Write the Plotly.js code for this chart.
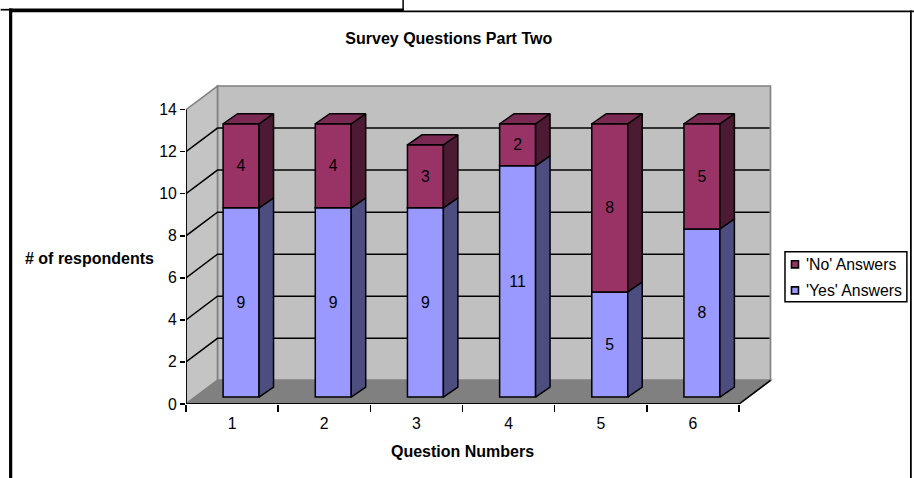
<!DOCTYPE html>
<html><head><meta charset="utf-8">
<script src="https://cdn.plot.ly/plotly-3.0.1.min.js"></script>
<style>html,body{margin:0;padding:0;background:#fff;overflow:hidden}</style>
</head><body><div id="chart" style="width:914px;height:478px"></div>
<script>
const categories = [1, 2, 3, 4, 5, 6];
const yesAnswers = [9, 9, 9, 11, 5, 8];
const noAnswers = [4, 4, 3, 2, 8, 5];
const yTicks = [0, 2, 4, 6, 8, 10, 12, 14];
const yesName = "'Yes' Answers";
const noName = "'No' Answers";

// layout
const W = 914, H = 478;
const m = {l: 185.5, r: 141, t: 83.4, b: 74};
const pxPerCat = 92.25, pxPerUnit = 21;
const xMin = 0.5, xMax = xMin + (W - m.r - m.l) / pxPerCat;
const yMax = (H - m.b - m.t) / pxPerUnit;
// oblique projection of the depth axis, in data units
const depthX = 31.5 / pxPerCat, depthY = 23.6 / pxPerUnit;
const frontX = 9 / pxPerCat, frontY = 6.9 / pxPerUnit;
const sideX = 14.5 / pxPerCat, sideY = 10 / pxPerUnit, barWidth = 0.39;
const xEnd = categories.length + 0.5, yTop = yTicks[yTicks.length - 1];

const px = v => (v - m.l) / (W - m.l - m.r);
const py = v => (H - m.b - v) / (H - m.t - m.b);
const poly = pts => 'M' + pts.map(p => p[0] + ' ' + p[1]).join('L') + 'Z';

const shapes = [];
const wall = (pts, fill, color) => shapes.push({type: 'path', xref: 'x', yref: 'y', layer: 'below', path: poly(pts),
  fillcolor: fill, line: {color: color, width: 1.6}});
wall([[xMin + depthX, depthY], [xEnd + depthX, depthY], [xEnd + depthX, yTop + depthY], [xMin + depthX, yTop + depthY]], '#C0C0C0', '#808080');
wall([[xMin, 0], [xMin, yTop], [xMin + depthX, yTop + depthY], [xMin + depthX, depthY]], '#C4C4C4', '#808080');
wall([[xMin, 0], [xEnd, 0], [xEnd + depthX, depthY], [xMin + depthX, depthY]], '#808080', '#808080');
yTicks.slice(1, -1).forEach(t => {
  shapes.push({type: 'path', xref: 'x', yref: 'y', layer: 'below', line: {color: '#000', width: 1.5},
    path: `M${xMin} ${t}L${xMin + depthX} ${t + depthY}L${xEnd + depthX - 0.01} ${t + depthY}`});
});
shapes.push({type: 'line', xref: 'x', yref: 'y', layer: 'below', x0: xEnd, y0: 0, x1: xEnd + depthX, y1: depthY, line: {color: '#000', width: 1.5}});

// frame around the pasted chart
const frame = (x0, y0, x1, y1, w) => shapes.push({type: 'line', xref: 'paper', yref: 'paper', x0: px(x0), y0: py(y0), x1: px(x1), y1: py(y1), line: {color: '#000', width: w}});
frame(0, 10.2, 10, 10.2, 1.7);
frame(8.5, 10.9, 403.5, 10.9, 3.6);
frame(403, 11.8, 914, 11.8, 1.8);
frame(10, 9, 10, 478, 3.2);
frame(911, 11, 911, 478, 1.8);
frame(402.8, 0, 402.8, 11, 1.5);

// legend box
shapes.push({type: 'rect', xref: 'paper', yref: 'paper', x0: px(785), x1: px(907), y0: py(252), y1: py(302), fillcolor: '#fff', line: {color: '#000', width: 1.5}});
const swatch = (y, c) => shapes.push({type: 'rect', xref: 'paper', yref: 'paper', x0: px(791.5), x1: px(798.5), y0: py(y - 3.5), y1: py(y + 3.5), fillcolor: c, line: {color: '#000', width: 1.6}});
const yesColor = '#9999FF', noColor = '#993366';
swatch(264.5, noColor);
swatch(290.5, yesColor);

// front faces
const barX = categories.map(c => c + frontX);
const yesBase = categories.map(() => frontY);
const noBase = yesAnswers.map(v => v + frontY);
const labelFont = {family: 'Liberation Sans, Arial, sans-serif', size: 15.8, color: '#000'};
const bar = (name, vals, base, color) => ({type: 'bar', name, x: barX, y: vals, base, width: barWidth,
  marker: {color, line: {color: '#000', width: 1.5}}, text: vals.map(String), textposition: 'inside', insidetextanchor: 'middle',
  textangle: 0, insidetextfont: labelFont, constraintext: 'none', showlegend: false, hovertemplate: name + ': %{y}<extra></extra>'});
const traces = [bar(yesName, yesAnswers, yesBase, yesColor), bar(noName, noAnswers, noBase, noColor)];

// side and top faces
const face = (pts, fill) => ({type: 'scatter', mode: 'lines', x: pts.map(p => p[0]).concat(pts[0][0]), y: pts.map(p => p[1]).concat(pts[0][1]),
  fill: 'toself', fillcolor: fill, line: {color: '#000', width: 1.5}, hoverinfo: 'skip', showlegend: false});
categories.forEach((c, i) => {
  const r = barX[i] + barWidth / 2, l = barX[i] - barWidth / 2;
  const y0 = frontY, y1 = frontY + yesAnswers[i], y2 = y1 + noAnswers[i];
  traces.push(face([[r, y0], [r + sideX, y0 + sideY], [r + sideX, y1 + sideY], [r, y1]], '#4D4D80'));
  traces.push(face([[r, y1], [r + sideX, y1 + sideY], [r + sideX, y2 + sideY], [r, y2]], '#4D1A33'));
  traces.push(face([[l, y2], [r, y2], [r + sideX, y2 + sideY], [l + sideX, y2 + sideY]], '#7A2952'));
});
// axis lines
const axisLine = (x, y) => ({type: 'scatter', mode: 'lines', x, y, cliponaxis: false, line: {color: '#000', width: 1.8}, hoverinfo: 'skip', showlegend: false});
traces.push(axisLine([xMin, xMin], [0, yTop]));
traces.push(axisLine([xMin, xEnd], [0, 0]));

const font = {family: 'Liberation Sans, Arial, sans-serif', size: 15.8, color: '#000'};
const bold = {family: 'Liberation Sans, Arial, sans-serif', size: 16, color: '#000', weight: 700};
const note = (text, x, y, f, anchor) => ({text, xref: 'paper', yref: 'paper', x: px(x), y: py(y), showarrow: false, font: f, xanchor: anchor || 'center', yanchor: 'middle', xshift: 0});
const layout = {
  width: W, height: H, margin: m, paper_bgcolor: '#fff', plot_bgcolor: 'rgba(0,0,0,0)', barmode: 'overlay', showlegend: false,
  font,
  title: {text: '<b>Survey Questions Part Two</b>', font: bold, x: px(448.5), xref: 'paper', xanchor: 'center', y: 1 - 38 / H, yref: 'container', yanchor: 'middle'},
  xaxis: {range: [xMin, xMax], tickmode: 'array', tickvals: categories, ticktext: categories.map(String), ticks: 'outside', ticklen: 5, tickcolor: 'rgba(0,0,0,0)', tickfont: font,
    showgrid: false, zeroline: false, showline: false, automargin: false,
    minor: {tickmode: 'array', tickvals: categories.map(c => c - 0.5).concat(xEnd), ticks: 'outside', ticklen: 6.5, tickwidth: 1.5, tickcolor: '#000', showgrid: false}},
  yaxis: {range: [0, yMax], tickmode: 'array', tickvals: yTicks, ticks: 'outside', ticklen: 5, tickwidth: 1.5, tickcolor: '#000', tickfont: font,
    showgrid: false, zeroline: false, showline: false, automargin: false},
  shapes,
  annotations: [
    note('<b># of respondents</b>', 88.5, 258.5, bold),
    note('<b>Question Numbers</b>', 462, 451, bold),
    note(noName, 804, 264.5, font, 'left'),
    note(yesName, 804, 290.5, font, 'left')
  ]
};
Plotly.newPlot('chart', traces, layout, {displayModeBar: false, staticPlot: true});
</script></body></html>
